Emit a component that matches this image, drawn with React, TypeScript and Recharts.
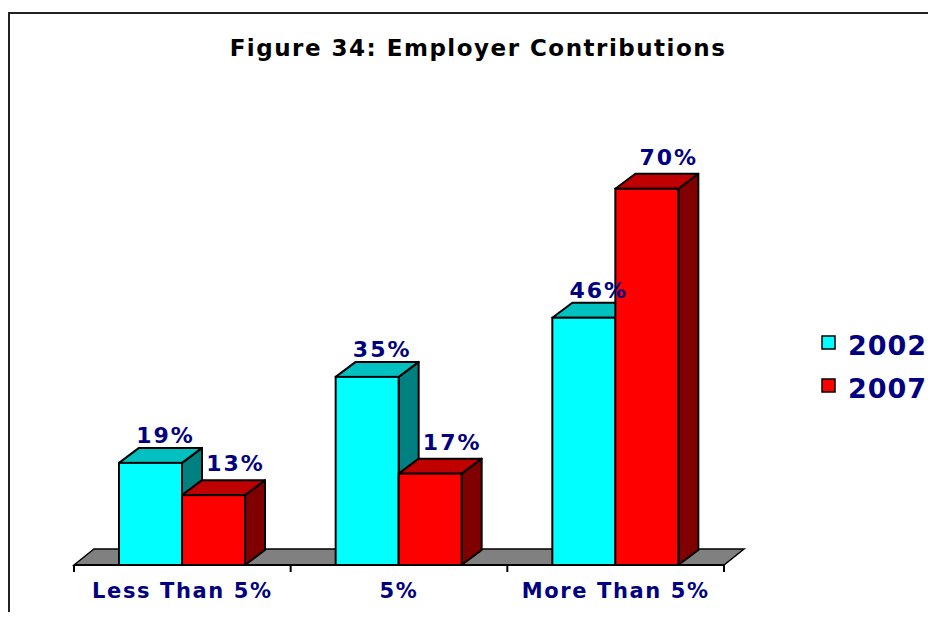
import { BarChart, Bar, XAxis, YAxis, LabelList } from 'recharts';

const categories = ['Less Than 5%', '5%', 'More Than 5%'];
const values2002 = [19, 35, 46];
const values2007 = [13, 17, 70];
const seriesNames = ['2002', '2007'];
const title = 'Figure 34: Employer Contributions';

const data = categories.map((name, i) => ({
  name,
  y2002: values2002[i],
  y2007: values2007[i],
}));

const W = 926;
const H = 608;
const AXIS_H = 30;
const margin = { top: 121, right: 212, bottom: 57 - AXIS_H, left: 64 };
const DX = 20;
const DY = 15;
const FONT = '"DejaVu Sans", Verdana, sans-serif';
const NAVY = '#000080';

const palette = {
  cyan: { front: '#00FFFF', top: '#00C0C0', side: '#008080' },
  red: { front: '#FF0000', top: '#C00000', side: '#800000' },
};

// front face + slanted top and side to fake the 3D look
function make3DBar(colors: { front: string; top: string; side: string }) {
  return (props: any) => {
    const { x, y, width, height } = props;
    if (width == null || height == null) return null;
    const pts = (arr: number[][]) => arr.map((p) => p.join(',')).join(' ');
    return (
      <g>
        <polygon
          points={pts([
            [x + width, y],
            [x + width + DX, y - DY],
            [x + width + DX, y + height - DY],
            [x + width, y + height],
          ])}
          fill={colors.side}
          stroke="#000"
          strokeWidth={2}
          strokeLinejoin="round"
        />
        <polygon
          points={pts([
            [x, y],
            [x + DX, y - DY],
            [x + width + DX, y - DY],
            [x + width, y],
          ])}
          fill={colors.top}
          stroke="#000"
          strokeWidth={2}
          strokeLinejoin="round"
        />
        <rect x={x} y={y} width={width} height={height} fill={colors.front} stroke="#000" strokeWidth={2} />
      </g>
    );
  };
}

function makeLabel(offX: number, offY: number) {
  return (props: any) => {
    const { x, y, width, value } = props;
    return (
      <text
        x={x + width / 2 + offX}
        y={y - offY}
        textAnchor="middle"
        fill={NAVY}
        fontSize={22}
        fontWeight="bold"
        fontFamily={FONT}
        letterSpacing={2}
      >
        {value}%
      </text>
    );
  };
}

function CategoryTick(props: any) {
  const { x, y, payload } = props;
  return (
    <text
      x={x}
      y={y + 33}
      textAnchor="middle"
      fill={NAVY}
      fontSize={21}
      fontWeight="bold"
      fontFamily={FONT}
      letterSpacing={1.6}
    >
      {payload.value}
    </text>
  );
}

function LegendBox() {
  const colors = [palette.cyan.front, palette.red.front];
  return (
    <svg width={120} height={90} style={{ position: 'absolute', left: 810, top: 315 }}>
      {seriesNames.map((s, i) => (
        <g key={s}>
          <rect x={2} y={7 + i * 43} width={13} height={13} fill={colors[i]} stroke="#000" strokeWidth={1.5} />
          <text x={28} y={26 + i * 43} fill={NAVY} fontSize={27} fontWeight="bold" fontFamily={FONT} letterSpacing={1}>
            {s}
          </text>
        </g>
      ))}
    </svg>
  );
}

export default function App() {
  const plotW = W - margin.left - margin.right;
  const base = H - margin.bottom - AXIS_H;
  const band = plotW / categories.length;
  const x0 = margin.left;
  const x1 = margin.left + plotW;

  return (
    <div style={{ width: 920, height: 610, marginTop: 4, marginBottom: -10, overflow: 'hidden' }}>
      <div
        style={{
          position: 'relative',
          width: 960,
          height: 660,
          border: '2px solid #222',
          background: '#fff',
        }}
      >
        <svg width={W} height={H} style={{ position: 'absolute', left: 0, top: 0 }}>
          <text
            x={468}
            y={42}
            textAnchor="middle"
            fontSize={23}
            fontWeight="bold"
            fontFamily={FONT}
            fill="#000"
            letterSpacing={1.5}
          >
            {title}
          </text>
          <polygon
            points={`${x0},${base} ${x0 + DX},${base - DY - 1} ${x1 + DX},${base - DY - 1} ${x1},${base}`}
            fill="#808080"
            stroke="#000"
            strokeWidth={1.5}
          />
          {categories.concat(['']).map((_, i) => (
            <line
              key={i}
              x1={x0 + i * band}
              x2={x0 + i * band}
              y1={base}
              y2={base + 7}
              stroke="#000"
              strokeWidth={2}
            />
          ))}
        </svg>
        <div style={{ position: 'absolute', left: 0, top: 0 }}>
          <BarChart
            width={W}
            height={H}
            data={data}
            margin={margin}
            barCategoryGap={45}
            barGap={0}
          >
            <XAxis
              dataKey="name"
              height={AXIS_H}
              axisLine={{ stroke: '#000', strokeWidth: 2 }}
              tickLine={false}
              tickSize={0}
              tickMargin={0}
              interval={0}
              tick={<CategoryTick />}
            />
            <YAxis hide domain={[0, 80]} />
            <Bar dataKey="y2002" name={seriesNames[0]} fill={palette.cyan.front} shape={make3DBar(palette.cyan)} isAnimationActive={false}>
              <LabelList dataKey="y2002" content={makeLabel(15, 20)} />
            </Bar>
            <Bar dataKey="y2007" name={seriesNames[1]} fill={palette.red.front} shape={make3DBar(palette.red)} isAnimationActive={false}>
              <LabelList dataKey="y2007" content={makeLabel(22, 24)} />
            </Bar>
          </BarChart>
        </div>
        <LegendBox />
      </div>
    </div>
  );
}
